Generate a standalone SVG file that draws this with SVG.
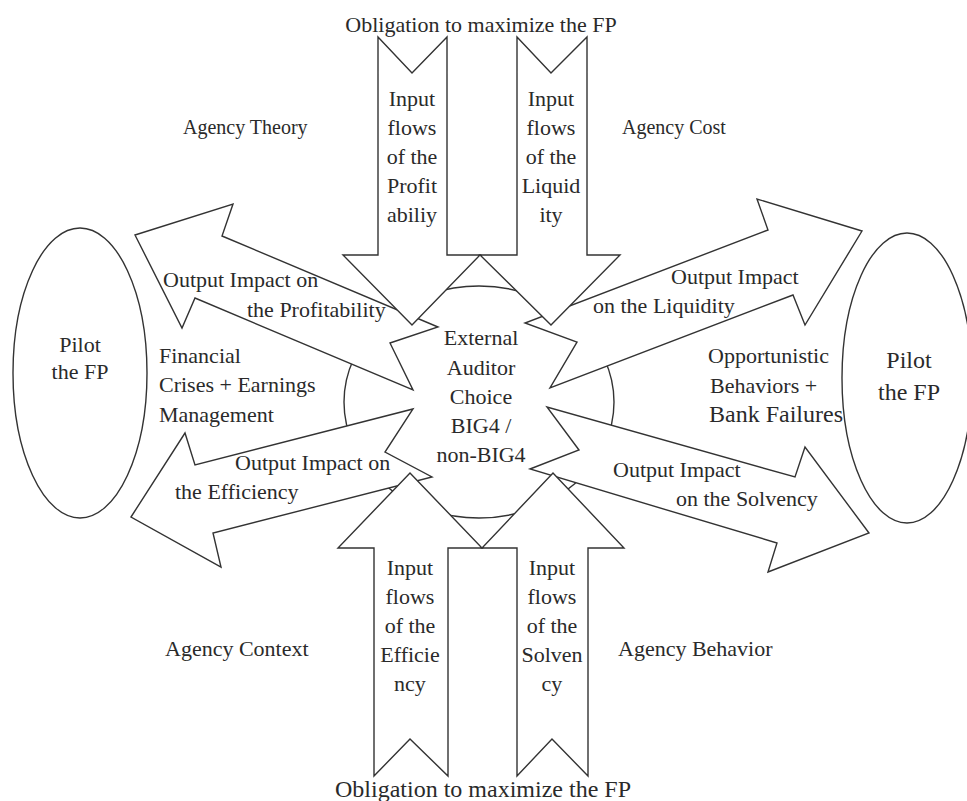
<svg xmlns="http://www.w3.org/2000/svg" width="967" height="801" viewBox="0 0 967 801">
<style>
.sh{fill:#fff;stroke:#333;stroke-width:1.4;stroke-linejoin:miter}
.t{font-family:"Liberation Serif","Times New Roman",serif;font-size:22px;fill:#2a2a2a}
.m{text-anchor:middle}
</style>
<rect width="967" height="801" fill="#fff"/>
<g id="center-ring"><ellipse class="sh" cx="479" cy="402" rx="135" ry="116"/></g>
<g id="pilot-left"><ellipse class="sh" cx="80" cy="373" rx="67" ry="145"/></g>
<g id="pilot-right"><ellipse class="sh" cx="907" cy="378" rx="65" ry="145"/></g>
<g id="connectors">
<polygon id="out-profitability" class="sh" points="135,235 233,204 222,236 438,327 390,343 413,390 195,298 182,328"/>
<polygon id="out-liquidity" class="sh" points="862,231 757,199 768,230 525,323 577,342 550,388 793,295 805,325"/>
<polygon id="out-efficiency" class="sh" points="131,517 185,433 195,465 413,409 385,452 432,477 213,533 221,567"/>
<polygon id="out-solvency" class="sh" points="869,533 805,447 795,477 547,407 579,450 530,469 777,543 768,572"/>
<polygon id="in-profitability" class="sh" points="378,37 412,73 447,37 447,255 480,255 412,325 343,255 378,255"/>
<polygon id="in-liquidity" class="sh" points="517,37 551,73 587,37 587,255 620,255 551,325 480,255 517,255"/>
<polygon id="in-efficiency" class="sh" points="374,776 410,739 448,776 448,548 482,548 410,473 338,548 374,548"/>
<polygon id="in-solvency" class="sh" points="517,776 552,739 588,776 588,548 624,548 553,473 482,548 517,548"/>
</g>
<g id="labels">
<text class="t m" x="481" y="32">Obligation to maximize the FP</text>
<text class="t m" x="483" y="797" style="font-size:24px">Obligation to maximize the FP</text>
<text class="t" x="183" y="134" style="font-size:20px">Agency Theory</text>
<text class="t" x="622" y="134" style="font-size:20px">Agency Cost</text>
<text class="t" x="165" y="656">Agency Context</text>
<text class="t" x="618" y="656">Agency Behavior</text>
<text class="t m" x="412" y="106">Input</text>
<text class="t m" x="412" y="135">flows</text>
<text class="t m" x="412" y="164">of the</text>
<text class="t m" x="412" y="193">Profit</text>
<text class="t m" x="412" y="222">abiliy</text>
<text class="t m" x="551" y="106">Input</text>
<text class="t m" x="551" y="135">flows</text>
<text class="t m" x="551" y="164">of the</text>
<text class="t m" x="551" y="193">Liquid</text>
<text class="t m" x="551" y="222">ity</text>
<text class="t m" x="410" y="575">Input</text>
<text class="t m" x="410" y="604">flows</text>
<text class="t m" x="410" y="633">of the</text>
<text class="t m" x="410" y="662">Efficie</text>
<text class="t m" x="410" y="691">ncy</text>
<text class="t m" x="552" y="575">Input</text>
<text class="t m" x="552" y="604">flows</text>
<text class="t m" x="552" y="633">of the</text>
<text class="t m" x="552" y="662">Solven</text>
<text class="t m" x="552" y="691">cy</text>
<text class="t" x="163" y="287">Output Impact on</text>
<text class="t" x="247" y="317">the Profitability</text>
<text class="t" x="159" y="363">Financial</text>
<text class="t" x="159" y="392">Crises + Earnings</text>
<text class="t" x="159" y="422">Management</text>
<text class="t" x="235" y="470">Output Impact on</text>
<text class="t" x="175" y="499">the Efficiency</text>
<text class="t" x="671" y="284">Output Impact</text>
<text class="t" x="593" y="313">on the Liquidity</text>
<text class="t" x="708" y="363">Opportunistic</text>
<text class="t" x="710" y="393">Behaviors +</text>
<text class="t" x="709" y="422" style="font-size:24px">Bank Failures</text>
<text class="t" x="613" y="477">Output Impact</text>
<text class="t" x="676" y="506">on the Solvency</text>
<text class="t m" x="481" y="345">External</text>
<text class="t m" x="481" y="375">Auditor</text>
<text class="t m" x="481" y="404">Choice</text>
<text class="t m" x="481" y="433">BIG4 /</text>
<text class="t m" x="481" y="462">non-BIG4</text>
<text class="t m" x="80" y="352">Pilot</text>
<text class="t m" x="80" y="379">the FP</text>
<text class="t m" x="909" y="368" style="font-size:24px">Pilot</text>
<text class="t m" x="909" y="400" style="font-size:24px">the FP</text>
</g>
</svg>
